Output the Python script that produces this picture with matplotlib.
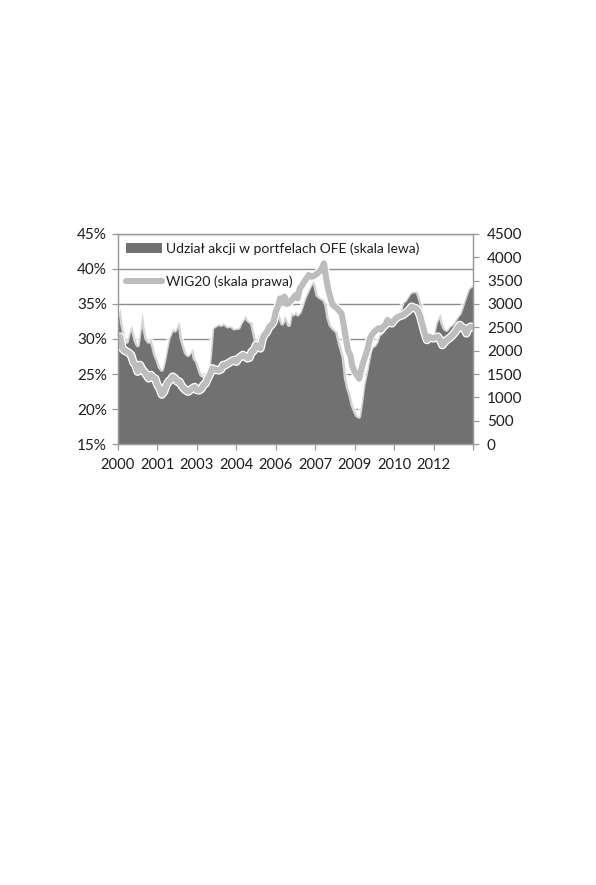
import matplotlib
matplotlib.use("Agg")
import matplotlib.pyplot as plt
import matplotlib.patheffects as pe
import numpy as np
import pandas as pd

plt.rcParams["font.family"] = ["Lato", "DejaVu Sans"]

# monthly data, Jan 2000 - Jul 2013
months = pd.date_range("2000-01-01", periods=163, freq="MS")

# share of equities in OFE portfolios (%), left axis
ofe_share = [
    33.5, 34.4, 32.0, 30.5, 29.6, 31.0, 32.0, 31.0, 29.8, 29.1, 31.5, 33.9,  # 2000
    31.5, 30.0, 29.6, 30.1, 29.0, 27.7, 27.0, 26.0, 25.6, 26.8, 28.5, 30.1,  # 2001
    30.8, 31.6, 31.2, 32.0, 32.5, 30.1, 29.0, 28.0, 27.7, 28.2, 28.7, 27.2,  # 2002
    26.8, 25.8, 24.9, 24.7, 24.6, 24.8, 27.7, 31.6, 31.8, 32.0, 32.2, 32.0,  # 2003
    32.3, 32.1, 31.8, 31.9, 31.8, 31.5, 31.6, 31.6, 32.3, 32.8, 33.4, 32.8,  # 2004
    32.5, 32.4, 31.0, 29.6, 30.6, 31.0, 31.3, 31.6, 32.0, 32.5, 32.8, 33.2,  # 2005
    33.5, 33.9, 33.0, 32.2, 33.4, 32.8, 32.0, 33.9, 33.5, 34.0, 33.5, 33.9,  # 2006
    34.8, 35.8, 36.5, 37.2, 37.8, 38.4, 37.7, 36.3, 36.0, 35.8, 35.6, 34.9,  # 2007
    33.0, 32.0, 31.6, 31.3, 31.0, 29.6, 28.5, 27.3, 24.4, 23.0, 22.0, 20.6,  # 2008
    19.8, 19.1, 18.9, 21.0, 23.4, 24.9, 26.5, 28.2, 29.0, 29.1, 29.6, 30.6,  # 2009
    30.8, 31.2, 31.6, 32.0, 32.5, 32.8, 33.0, 33.4, 33.9, 34.3, 35.3, 35.5,  # 2010
    36.0, 36.5, 36.8, 36.8, 36.9, 36.5, 35.5, 34.1, 32.5, 31.3, 29.9, 30.5,  # 2011
    30.9, 32.3, 33.0, 33.7, 32.3, 31.5, 31.3, 31.8, 32.0, 32.3, 32.8, 33.3,  # 2012
    33.7, 34.6, 35.6, 36.5, 37.3, 37.5, 37.8,                                # 2013
]

# WIG20 index, right axis
wig20 = [
    2121, 2300, 2050, 2000, 1979, 1950, 1907, 1750, 1693, 1550, 1693, 1600,  # 2000
    1550, 1480, 1407, 1479, 1420, 1400, 1264, 1190, 1060, 1121, 1250, 1336,  # 2001
    1380, 1443, 1407, 1340, 1336, 1250, 1193, 1150, 1121, 1160, 1193, 1220,  # 2002
    1157, 1150, 1180, 1264, 1300, 1407, 1500, 1621, 1600, 1586, 1580, 1600,  # 2003
    1693, 1690, 1720, 1750, 1780, 1800, 1764, 1836, 1870, 1907, 1880, 1836,  # 2004
    1850, 1979, 2000, 2121, 2080, 2050, 2264, 2350, 2407, 2514, 2550, 2621,  # 2005
    2836, 2950, 3121, 3021, 3157, 3000, 3021, 3080, 3121, 3193, 3121, 3336,  # 2006
    3400, 3479, 3550, 3621, 3586, 3590, 3620, 3657, 3700, 3764, 3871, 3550,  # 2007
    3300, 3121, 2979, 2940, 2907, 2850, 2800, 2550, 2264, 2000, 1907, 1657,  # 2008
    1550, 1479, 1400, 1600, 1764, 1907, 2050, 2264, 2350, 2407, 2450, 2479,  # 2009
    2450, 2514, 2550, 2657, 2600, 2586, 2650, 2700, 2729, 2750, 2764, 2800,  # 2010
    2836, 2880, 2943, 2920, 2907, 2850, 2729, 2550, 2371, 2229, 2300, 2280,  # 2011
    2264, 2290, 2300, 2229, 2121, 2180, 2229, 2260, 2300, 2350, 2407, 2480,  # 2012
    2550, 2500, 2479, 2371, 2479, 2514, 2500,                                # 2013
]

x_tick_labels = ["2000", "2001", "2003", "2004", "2006", "2007", "2009", "2010", "2012", ""]
left_ticks = [15, 20, 25, 30, 35, 40, 45]
right_ticks = [0, 500, 1000, 1500, 2000, 2500, 3000, 3500, 4000, 4500]

area_color = "#717171"
line_color = "#bdbdbd"
grid_color = "#8c8c8c"
text_color = "#1e1e1e"

x = np.arange(len(months))

fig = plt.figure(figsize=(5.96, 8.85), dpi=100, facecolor="white")
ax = fig.add_axes((0.198, 0.4983, 0.5956, 0.2373))
ax2 = ax.twinx()

ax.fill_between(x, 0, ofe_share, color=area_color, linewidth=0, zorder=2,
                label="Udział akcji w portfelach OFE (skala lewa)")
ax.plot(x, ofe_share, color="white", linewidth=3.0, alpha=0.7, zorder=3)

ax2.plot(x, wig20, color=line_color, linewidth=4.4, solid_capstyle="round",
         path_effects=[pe.Stroke(linewidth=6.2, foreground="white"), pe.Normal()],
         label="WIG20 (skala prawa)")

ax.set_xlim(0, len(x) - 1)
ax.set_ylim(15, 45)
ax2.set_ylim(0, 4500)

ax.set_yticks(left_ticks)
ax.set_yticklabels([f"{t}%" for t in left_ticks])
ax2.set_yticks(right_ticks)
ax2.set_yticklabels([str(t) for t in right_ticks])
ax.set_xticks(x[::18])
ax.set_xticklabels(x_tick_labels)

ax.set_axisbelow(True)
ax.yaxis.grid(True, color=grid_color, linewidth=1.0, zorder=0)
ax.xaxis.grid(False)

for a in (ax, ax2):
    for side in a.spines.values():
        side.set_color("#9a9a9a")
        side.set_linewidth(0.9)
    a.tick_params(colors="#9a9a9a", labelcolor=text_color, labelsize=11, length=4, width=0.9)
ax.tick_params(axis="x", pad=6, labelsize=10.6)
ax.tick_params(axis="y", pad=4)
ax2.tick_params(axis="y", pad=6)

handles = ax.get_legend_handles_labels()[0][:1] + ax2.get_legend_handles_labels()[0]
labels = ["Udział akcji w portfelach OFE (skala lewa)", "WIG20 (skala prawa)"]
leg = ax2.legend(handles, labels, loc="upper left", frameon=False, fontsize=10,
                 handlelength=2.6, handleheight=0.7, labelspacing=1.5,
                 handletextpad=0.25, borderaxespad=0.2, bbox_to_anchor=(0.0, 1.0))
for t in leg.get_texts():
    t.set_color(text_color)

fig.savefig("out.png", dpi=100, facecolor="white")
